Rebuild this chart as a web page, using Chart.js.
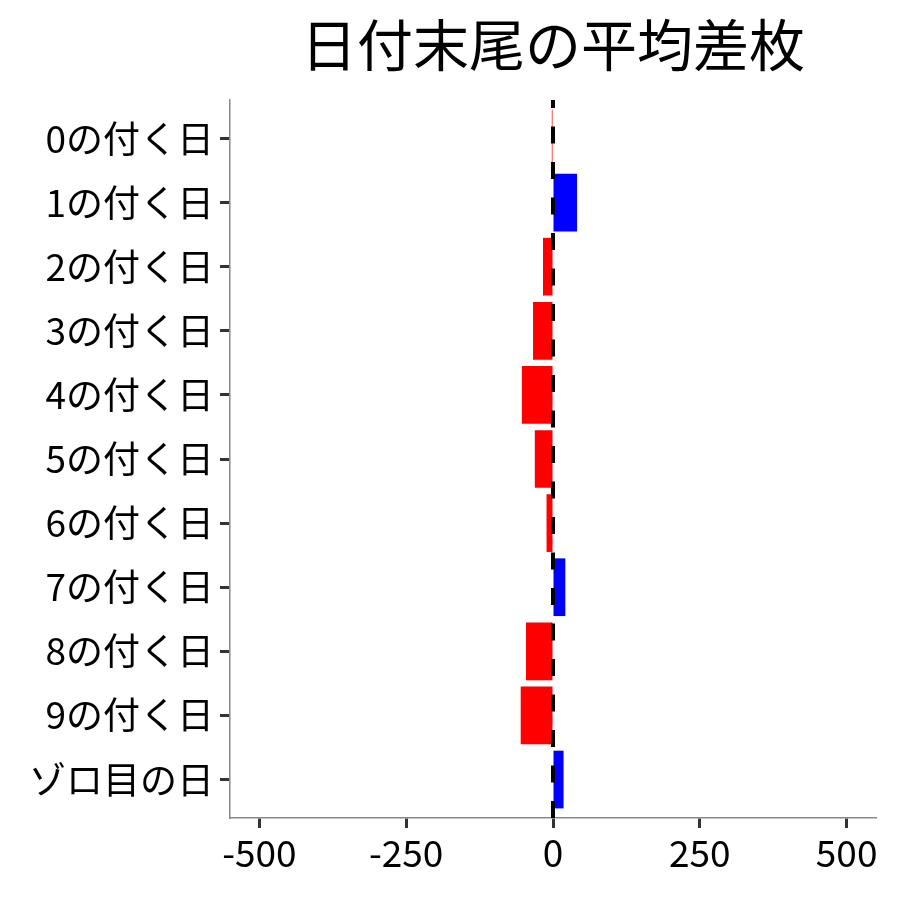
<!DOCTYPE html>
<html><head><meta charset="utf-8">
<script src="https://cdn.jsdelivr.net/npm/chart.js@4/dist/chart.umd.min.js"></script>
<style>html,body{margin:0;padding:0;background:#fff}#wrap{width:900px;height:900px}</style>
</head><body><div id="wrap"><canvas id="c" width="900" height="900"></canvas></div>
<script>
const chartTitle = '日付末尾の平均差枚';
const categories = ['0の付く日','1の付く日','2の付く日','3の付く日','4の付く日','5の付く日','6の付く日','7の付く日','8の付く日','9の付く日','ゾロ目の日'];
const values = [-2, 41, -17, -34, -53, -31, -11, 21, -46, -55, 18];
const xTicks = [-500, -250, 0, 250, 500];
const xRange = [-550, 550];
const refValue = 0;

const FONT = '"Noto Sans CJK JP", "Noto Sans", sans-serif';

const titlePlugin = {
  id: 'centerTitle',
  afterDraw(chart) {
    const ctx = chart.ctx, a = chart.chartArea;
    ctx.save();
    ctx.font = '56px ' + FONT;
    ctx.fillStyle = '#000';
    ctx.textAlign = 'center';
    ctx.textBaseline = 'middle';
    ctx.fillText(chartTitle, (a.left + a.right) / 2, 45);
    ctx.restore();
  }
};
const refLine = {
  id: 'refLine',
  afterDatasetsDraw(chart) {
    const ctx = chart.ctx, a = chart.chartArea;
    const x = chart.scales.x.getPixelForValue(refValue);
    ctx.save();
    ctx.strokeStyle = '#000';
    ctx.lineWidth = 4;
    ctx.setLineDash([17, 18.5]);
    ctx.beginPath();
    ctx.moveTo(x, a.bottom);
    ctx.lineTo(x, a.top);
    ctx.stroke();
    ctx.restore();
  }
};

new Chart(document.getElementById('c'), {
  type: 'bar',
  data: {
    datasets: [{
      data: values.map((v, i) => ({x: v, y: i})),
      backgroundColor: values.map(v => v < 0 ? '#FF0000' : '#0000FF'),
      borderWidth: 0,
      barPercentage: 0.9,
      categoryPercentage: 1.0
    }]
  },
  options: {
    indexAxis: 'y',
    responsive: false,
    animation: false,
    layout: {padding: {top: 100, right: 24, bottom: 0, left: 0}},
    plugins: {legend: {display: false}, tooltip: {enabled: false}, title: {display: false}},
    scales: {
      x: {
        type: 'linear',
        min: xRange[0], max: xRange[1],
        offset: false,
        afterBuildTicks(s) { s.ticks = xTicks.map(v => ({value: v})); },
        afterFit(s) { s.height = 82; },
        grid: {offset: false, drawOnChartArea: false, drawTicks: true, tickLength: 10, tickWidth: 3, tickColor: '#333'},
        border: {display: true, color: '#888', width: 1.5},
        ticks: {font: {family: FONT, size: 37}, color: '#000', padding: 3, maxRotation: 0}
      },
      y: {
        type: 'linear',
        reverse: true,
        offset: false,
        min: -0.6, max: categories.length - 0.4,
        afterBuildTicks(s) { s.ticks = categories.map((_, i) => ({value: i})); },
        afterFit(s) { s.width = 230; },
        grid: {offset: false, drawOnChartArea: false, drawTicks: true, tickLength: 10, tickWidth: 3, tickColor: '#333'},
        border: {display: true, color: '#888', width: 1.5},
        ticks: {font: {family: FONT, size: 37}, color: '#000', padding: 6,
          callback: v => categories[v]}
      }
    }
  },
  plugins: [refLine, titlePlugin]
});
</script></body></html>
